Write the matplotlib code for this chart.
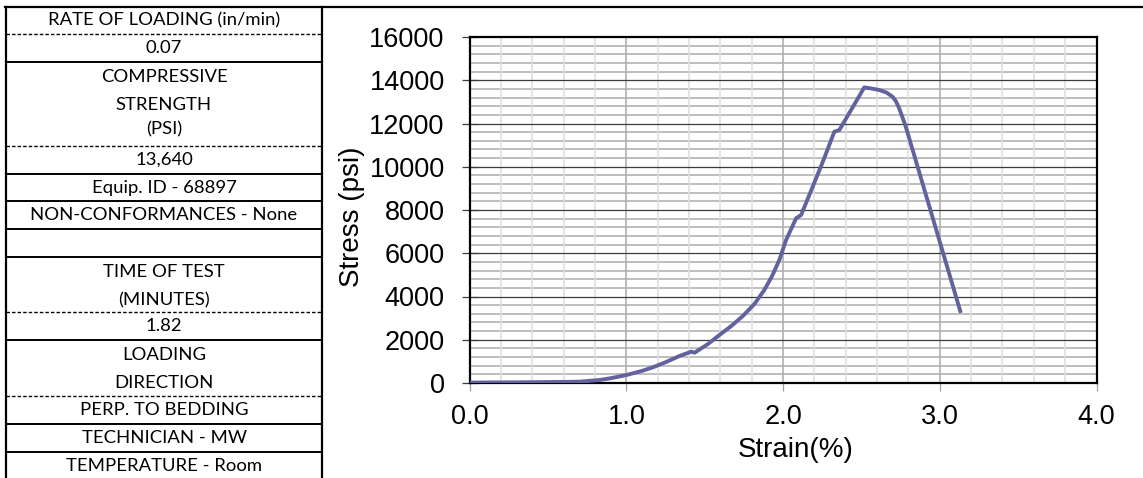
import matplotlib
matplotlib.use("Agg")
import matplotlib.pyplot as plt
from matplotlib.lines import Line2D
import numpy as np

# ---- data ----
strain = [0.0, 0.3, 0.6, 0.70, 0.83, 0.9, 1.0, 1.1, 1.169, 1.25, 1.339, 1.413,
          1.435, 1.52, 1.594, 1.67, 1.743, 1.817, 1.88, 1.93, 1.976, 2.019,
          2.083, 2.115, 2.189, 2.26, 2.327, 2.359, 2.41, 2.465, 2.518, 2.57,
          2.613, 2.66, 2.698, 2.72, 2.741, 2.783, 2.89, 2.996, 3.134]
stress = [20, 30, 50, 60, 139, 220, 370, 560, 726, 960, 1249, 1447,
          1401, 1800, 2220, 2640, 3098, 3653, 4300, 4950, 5688, 6613,
          7616, 7770, 9077, 10350, 11620, 11700, 12330, 13010, 13670, 13610,
          13550, 13430, 13240, 13030, 12700, 11850, 9225, 6625, 3240]

x_ticks = [0.0, 1.0, 2.0, 3.0, 4.0]
x_tick_labels = ["0.0", "1.0", "2.0", "3.0", "4.0"]
y_ticks = [0, 2000, 4000, 6000, 8000, 10000, 12000, 14000, 16000]

table_rows = [
    "RATE OF LOADING (in/min)", "0.07", "COMPRESSIVE", "STRENGTH", "(PSI)",
    "13,640", "Equip. ID - 68897", "NON-CONFORMANCES - None",
    "TIME OF TEST", "(MINUTES)", "1.82", "LOADING", "DIRECTION",
    "PERP. TO BEDDING", "TECHNICIAN - MW", "TEMPERATURE - Room",
]

W, H = 1143, 478
fig = plt.figure(figsize=(W / 100, H / 100), dpi=100)

def fx(px):
    return px / W

def fy(py):
    return 1 - py / H

# ---- chart ----
ax = fig.add_axes([fx(469.7), fy(383), fx(1096.5) - fx(469.7), fy(37) - fy(383)])
ax.set_xlim(0, 4)
ax.set_ylim(0, 16000)

for v in np.arange(400, 16000, 400):
    if v % 2000:
        ax.axhline(v, color="#bebebe", lw=1.4, zorder=0)
for v in np.arange(0.2, 4.0, 0.2):
    if abs(v - round(v)) > 1e-6:
        ax.axvline(v, color="#dcdcdc", lw=1.1, zorder=0)
for v in [1.0, 2.0, 3.0]:
    ax.axvline(v, color="#b0b0b0", lw=1.2, zorder=0.5)
for v in y_ticks[1:-1]:
    ax.axhline(v, color="#3c3c3c", lw=0.9, zorder=1)

ax.plot(strain, stress, color="#62639e", lw=2.8, zorder=3,
        solid_capstyle="butt", solid_joinstyle="round")

ax.set_xticks(x_ticks)
ax.set_xticklabels(x_tick_labels)
ax.set_yticks(y_ticks)
ax.tick_params(axis="y", direction="inout", length=12, width=0.9, color="#3c3c3c",
               labelsize=19.5, pad=12)
ax.tick_params(axis="x", direction="out", length=6, width=0.9, color="#a0a0a0",
               labelsize=19.5, pad=9)
for lab in ax.get_xticklabels() + ax.get_yticklabels():
    lab.set_fontfamily("Liberation Sans")
for s in ax.spines.values():
    s.set_linewidth(1.6)
    s.set_color("black")

ax.set_xlabel("Strain(%)", fontsize=20, fontfamily="Liberation Sans", labelpad=6)
ax.xaxis.set_label_coords(0.52, -0.155)
ax.set_ylabel("Stress (psi)", fontsize=20, fontfamily="Liberation Sans", labelpad=2)
ax.yaxis.set_label_coords(-0.167, 0.48)

# ---- left table ----
tl, tr = 6, 322
lines = [(34, True), (62, False), (146, True), (174, False), (201, False),
         (229, False), (257, False), (312, True), (340, False), (396, True),
         (424, False), (452, False)]
fig.add_artist(Line2D([fx(5), fx(1143)], [fy(7), fy(7)], color="black", lw=1.6))
fig.add_artist(Line2D([fx(tl), fx(tl)], [fy(7), fy(480)], color="black", lw=1.6))
fig.add_artist(Line2D([fx(tr), fx(tr)], [fy(7), fy(480)], color="black", lw=1.6))
for py, dashed in lines:
    fig.add_artist(Line2D([fx(tl), fx(tr)], [fy(py), fy(py)], color="black",
                          lw=1.0 if dashed else 1.4,
                          linestyle=(0, (2.5, 1.5)) if dashed else "-"))

text_y = [20, 48, 77, 105, 129, 160, 188, 215, 272, 300, 326, 355, 383, 410, 438, 466]
for t, py in zip(table_rows, text_y):
    fig.text(fx(164), fy(py), t, ha="center", va="center", fontsize=13.3,
             fontfamily="Lato", color="black")

fig.savefig("out.png", dpi=100)
